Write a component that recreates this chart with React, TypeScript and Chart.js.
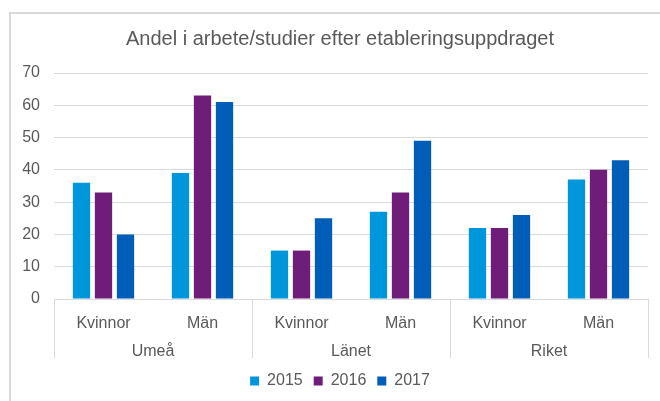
import React, { useEffect, useRef } from 'react';
import { Chart, registerables } from 'chart.js';

Chart.register(...registerables);

const titleText = 'Andel i arbete/studier efter etableringsuppdraget';
const categories = ['Kvinnor', 'Män', 'Kvinnor', 'Män', 'Kvinnor', 'Män'];
const groups = ['Umeå', 'Länet', 'Riket'];
const seriesLabels = ['2015', '2016', '2017'];
const values2015 = [36, 39, 15, 27, 22, 37];
const values2016 = [33, 63, 15, 33, 22, 40];
const values2017 = [20, 61, 25, 49, 26, 43];
const yMin = 0;
const yMax = 70;
const yStep = 10;

const colors = ['#0096DC', '#6E1E78', '#005EB8'];
const textColor = '#595959';
const lineColor = '#d9d9d9';
const fontFamily = "'Liberation Sans', Arial, sans-serif";

const groupSeparators = {
  id: 'groupSeparators',
  afterDraw(chart: any) {
    const xs = chart.scales.x;
    const x2 = chart.scales.x2;
    const n = categories.length;
    const per = n / groups.length;
    const half = (xs.getPixelForValue(1) - xs.getPixelForValue(0)) / 2;
    const ctx = chart.ctx;
    ctx.save();
    ctx.strokeStyle = lineColor;
    ctx.lineWidth = 1;
    for (let g = 0; g <= groups.length; g++) {
      let px = g === 0 ? xs.getPixelForValue(0) - half : xs.getPixelForValue(g * per - 1) + half;
      px = Math.round(px) + 0.5;
      ctx.beginPath();
      ctx.moveTo(px, xs.top);
      ctx.lineTo(px, x2.bottom - 4);
      ctx.stroke();
    }
    ctx.restore();
  },
};

export default function App() {
  const ref = useRef<HTMLCanvasElement | null>(null);

  useEffect(() => {
    if (!ref.current) return;
    const data = [values2015, values2016, values2017];
    const chart = new Chart(ref.current, {
      type: 'bar',
      data: {
        labels: categories,
        datasets: seriesLabels.map((label, i) => ({
          label,
          data: data[i],
          backgroundColor: colors[i],
          borderWidth: 0,
          categoryPercentage: 0.667,
          barPercentage: 0.786,
        })),
      },
      options: {
        animation: false,
        responsive: true,
        maintainAspectRatio: false,
        layout: { padding: { left: 20, right: 0, top: 12, bottom: 2 } },
        plugins: {
          title: {
            display: true,
            text: titleText,
            color: textColor,
            font: { family: fontFamily, size: 20, weight: 'normal' },
            padding: { top: 15, bottom: 22 },
          },
          legend: {
            position: 'bottom',
            labels: {
              boxWidth: 9,
              boxHeight: 9,
              padding: 11,
              color: textColor,
              font: { family: fontFamily, size: 16 },
            },
          },
          tooltip: { enabled: false },
        },
        scales: {
          x: {
            type: 'category',
            position: 'bottom',
            grid: { display: false, drawTicks: false },
            border: { display: true, color: lineColor },
            ticks: { color: textColor, font: { family: fontFamily, size: 16 }, padding: 15, maxRotation: 0 },
            afterFit: (s: any) => { s.height = 35; },
          },
          x2: {
            type: 'category',
            position: 'bottom',
            labels: groups,
            offset: true,
            grid: { display: false, drawTicks: false },
            border: { display: false },
            ticks: { color: textColor, font: { family: fontFamily, size: 16 }, padding: 8, maxRotation: 0 },
            afterFit: (s: any) => { s.height = 28; },
          },
          y: {
            min: yMin,
            max: yMax,
            ticks: { stepSize: yStep, color: textColor, font: { family: fontFamily, size: 16 }, padding: 14 },
            grid: { color: lineColor, drawTicks: false },
            border: { display: false },
            afterFit: (s: any) => { s.width = 34; },
          },
          yRight: {
            type: 'linear',
            position: 'right',
            min: yMin,
            max: yMax,
            ticks: { display: false },
            grid: { display: false, drawTicks: false },
            border: { display: false },
            afterFit: (s: any) => { s.width = 12; },
          },
        },
      },
      plugins: [groupSeparators],
    } as any);
    return () => chart.destroy();
  }, []);

  return (
    <div style={{ position: 'fixed', left: 0, top: 0, width: 660, height: 401, background: '#fff' }}>
      <div
        style={{
          position: 'absolute',
          left: 9,
          top: 12,
          width: 700,
          height: 500,
          borderLeft: `2px solid ${lineColor}`,
          borderTop: `2px solid ${lineColor}`,
          boxSizing: 'border-box',
        }}
      />
      <div style={{ position: 'absolute', left: 0, top: 0, width: 660, height: 401 }}>
        <canvas ref={ref} />
      </div>
    </div>
  );
}
